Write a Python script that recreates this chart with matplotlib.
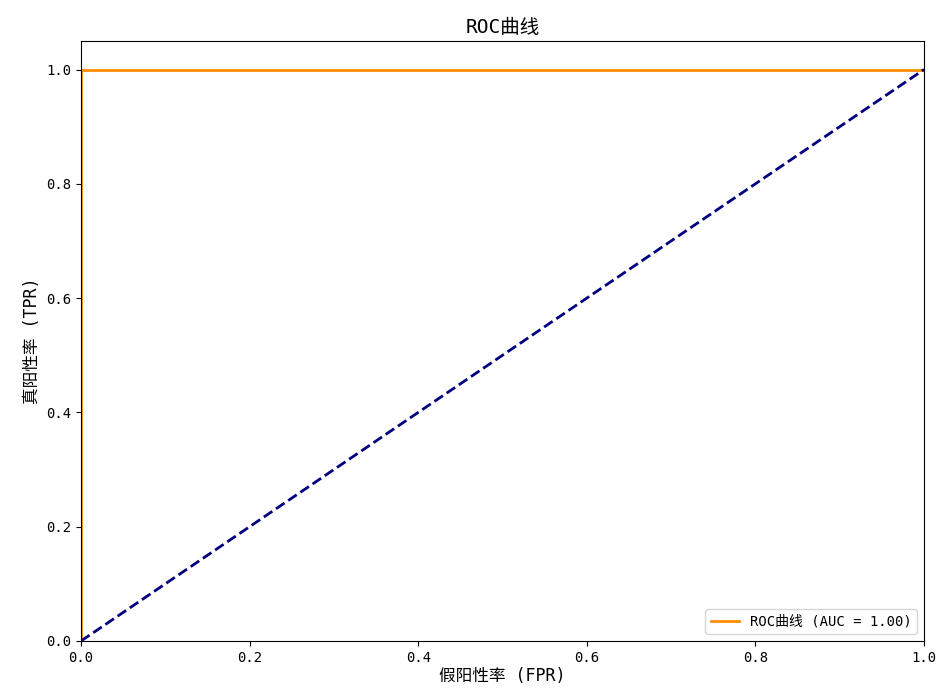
import numpy as np
import matplotlib
matplotlib.use("Agg")
import matplotlib.pyplot as plt

# monospace sans latin + CJK fallback, close to a SimHei look
plt.rcParams['font.family'] = ['DejaVu Sans Mono', 'Noto Sans CJK SC', 'DejaVu Sans']
plt.rcParams['axes.unicode_minus'] = False

# ROC points (perfect classifier)
fpr = [0.0, 0.0, 1.0]
tpr = [0.0, 1.0, 1.0]
roc_auc = 1.00

# chance line
diag_x = [0, 1]
diag_y = [0, 1]

fig = plt.figure(figsize=(9.4, 6.94), dpi=100)
ax = fig.add_axes([0.0862, 0.0764, 0.8968, 0.8646])

ax.plot(fpr, tpr, color='darkorange', lw=2, label='ROC曲线 (AUC = %0.2f)' % roc_auc)
ax.plot(diag_x, diag_y, color='navy', lw=2, linestyle='--')

ax.set_xlim([0.0, 1.0])
ax.set_ylim([0.0, 1.05])
ax.set_xlabel('假阳性率 (FPR)', fontsize=12, labelpad=2)
ax.set_ylabel('真阳性率 (TPR)', fontsize=12)
ax.set_title('ROC曲线', fontsize=14)
ax.legend(loc='lower right')

fig.savefig('out.png', dpi=100)
